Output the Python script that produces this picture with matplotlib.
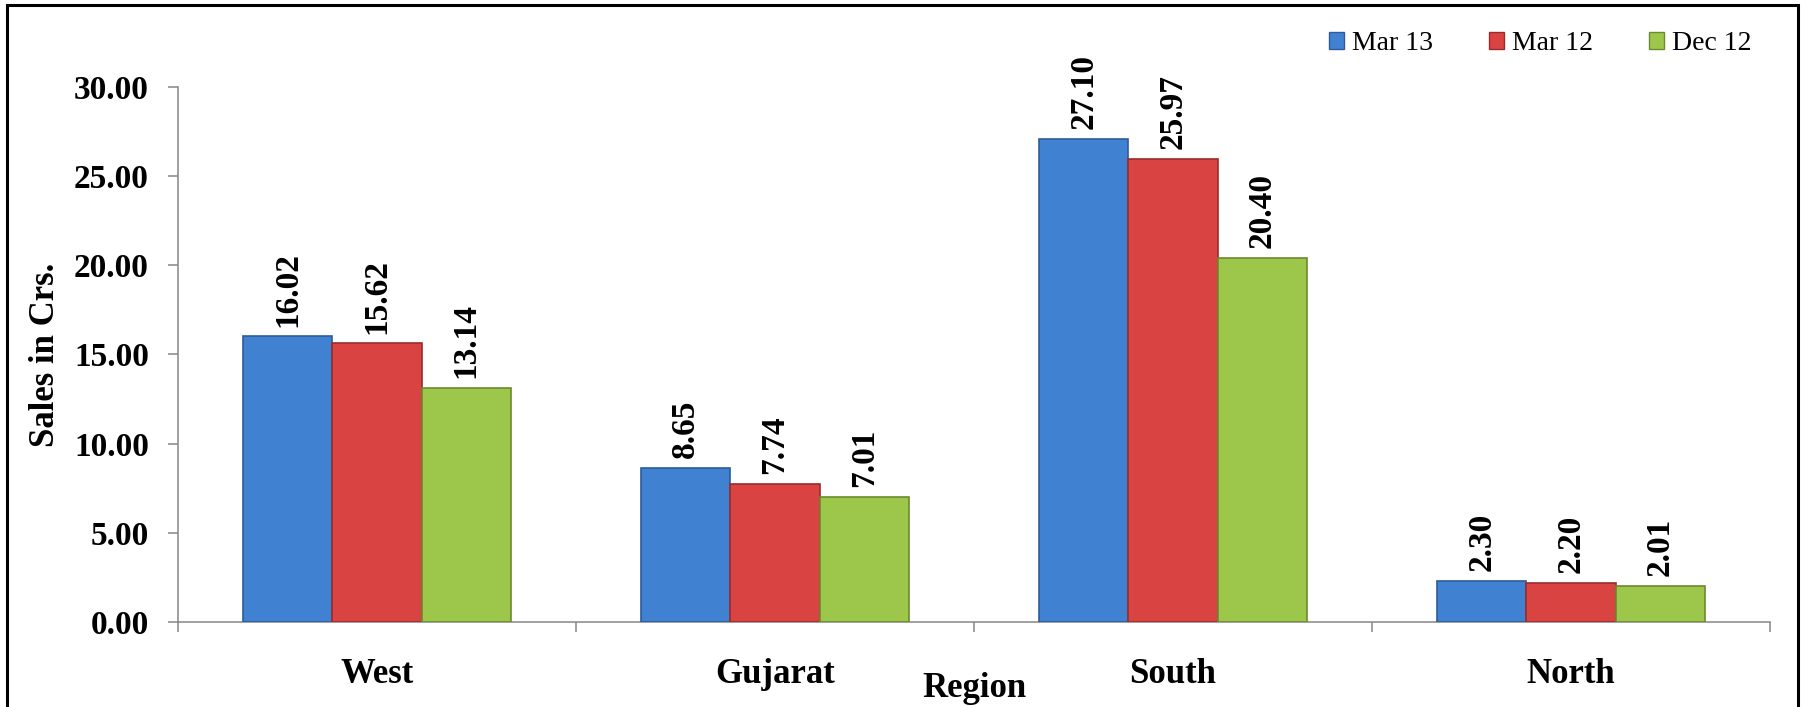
import numpy as np
import matplotlib
matplotlib.use("Agg")
import matplotlib.pyplot as plt
from matplotlib.patches import Patch, Rectangle

# Продажи по регионам, в крорах
regions = ["West", "Gujarat", "South", "North"]
series = ["Mar 13", "Mar 12", "Dec 12"]
mar13 = [16.02, 8.65, 27.10, 2.30]
mar12 = [15.62, 7.74, 25.97, 2.20]
dec12 = [13.14, 7.01, 20.40, 2.01]

face_colors = ["#4181D1", "#D94341", "#9DC74B"]
edge_colors = ["#2D5C98", "#9A2C2B", "#6C8A30"]

plt.rcParams["font.family"] = ["Liberation Serif", "DejaVu Serif"]

fig = plt.figure(figsize=(18.04, 7.07), dpi=100)
ax = fig.add_axes([178 / 1804, 1 - 622 / 707, (1770 - 178) / 1804, (622 - 87) / 707])

x = np.arange(len(regions))
w = 0.224
for i, vals in enumerate([mar13, mar12, dec12]):
    bars = ax.bar(x + (i - 1) * w, vals, width=w, color=face_colors[i],
                  edgecolor=edge_colors[i], linewidth=1.2, label=series[i], zorder=3)
    for b, v in zip(bars, vals):
        ax.annotate(f"{v:.2f}", (b.get_x() + b.get_width() / 2, v),
                    xytext=(0, 7), textcoords="offset points",
                    ha="center", va="bottom", rotation=90,
                    fontsize=24, fontweight="bold")

ax.set_xlim(-0.5, len(regions) - 0.5)
ax.set_ylim(0, 30)
ax.set_yticks(np.arange(0, 31, 5))
ax.set_yticklabels([f"{t:.2f}" for t in np.arange(0, 31, 5)], fontsize=24, fontweight="bold")

# деления между категориями, подписи по центру
ax.set_xticks(np.arange(-0.5, len(regions), 1.0))
ax.set_xticklabels([])
ax.set_xticks(x, minor=True)
ax.set_xticklabels(regions, minor=True, fontsize=25, fontweight="bold")
ax.tick_params(axis="x", which="major", length=7, width=1.1, color="#868686", direction="out")
ax.tick_params(axis="x", which="minor", length=0, pad=26)
ax.tick_params(axis="y", length=7, width=1.1, color="#868686", direction="out", pad=14)

for s in ["top", "right"]:
    ax.spines[s].set_visible(False)
for s in ["left", "bottom"]:
    ax.spines[s].set_color("#868686")
    ax.spines[s].set_linewidth(1.1)

ax.set_ylabel("Sales in Crs.", fontsize=25, fontweight="bold", va="center")
ax.yaxis.set_label_coords(-0.0835, 0.5)
ax.set_xlabel("Region", fontsize=25, fontweight="bold", va="baseline")
ax.xaxis.set_label_coords(0.5, -0.140)

handles = [Patch(facecolor=face_colors[i], edgecolor=edge_colors[i]) for i in range(3)]
fig.legend(handles, series, loc="center right", bbox_to_anchor=(1752 / 1804, 1 - 44 / 707),
           ncol=3, frameon=False, fontsize=20, handlelength=0.55, handleheight=0.55,
           handletextpad=0.3, columnspacing=2.0, borderpad=0, borderaxespad=0)

# рамка вокруг диаграммы
fig.patches.append(Rectangle((7 / 1804, -0.05), (1798 - 7) / 1804, 1.05 - 5 / 707,
                             transform=fig.transFigure, fill=False,
                             edgecolor="black", linewidth=2.2))

fig.savefig("out.png", dpi=100)
